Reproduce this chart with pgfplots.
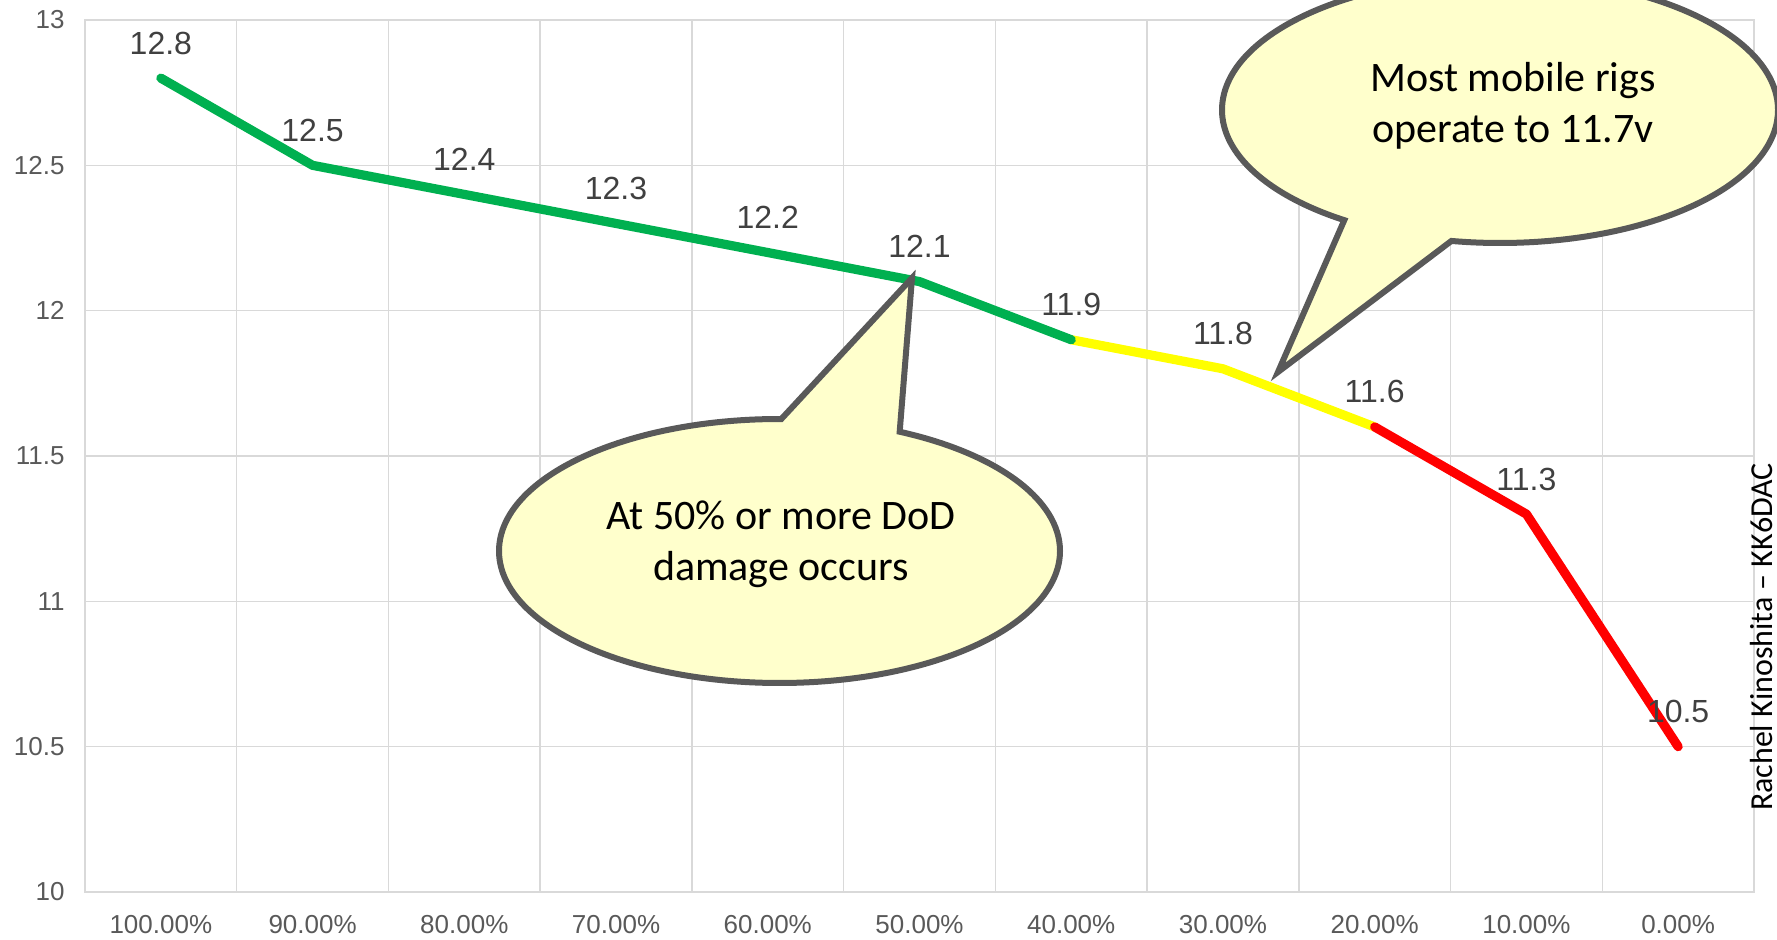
\documentclass[border=0pt]{standalone}
\usepackage{fontspec}
\setmainfont{Liberation Sans}
\newfontfamily\calibri{Carlito}
\usepackage{pgfplots}
\pgfplotsset{compat=1.18}
\usetikzlibrary{shapes.callouts}
\definecolor{gridgray}{HTML}{D9D9D9}
\definecolor{tickgray}{HTML}{595959}
\definecolor{labelgray}{HTML}{404040}
\definecolor{okGood}{HTML}{00B050}
\definecolor{okWarn}{HTML}{FFFF00}
\definecolor{okBad}{HTML}{FF0000}
\definecolor{bubblefill}{HTML}{FFFFCC}
\definecolor{bubbleline}{HTML}{595959}

\begin{document}
\begin{tikzpicture}
% page = 1777 x 940 px, 1 px = 0.5pt
\path[use as bounding box] (0,0) rectangle (888.5pt,-470pt);
\clip (0,0) rectangle (888.5pt,-470pt);
\begin{axis}[
    at={(42.5pt,-446pt)}, anchor=south west,
    width=834.5pt, height=436pt, scale only axis,
    xmin=-0.5, xmax=10.5, ymin=10, ymax=13,
    xtick={0,...,10},
    xticklabels={100.00\%, 90.00\%, 80.00\%, 70.00\%, 60.00\%, 50.00\%,
                 40.00\%, 30.00\%, 20.00\%, 10.00\%, 0.00\%},
    minor xtick={-0.5,0.5,...,10.5},
    ytick={10,10.5,...,13},
    xminorgrids, ymajorgrids,
    major grid style={draw=gridgray, line width=0.75pt},
    minor grid style={draw=gridgray, line width=0.75pt},
    axis line style={draw=gridgray, line width=0.75pt},
    major tick length=0pt, minor tick length=0pt,
    /pgf/number format/assume math mode=true,
    ticklabel style={font=\fontsize{13}{15}\selectfont, text=tickgray},
    yticklabel style={anchor=east, inner sep=0pt, xshift=-10pt},
    xticklabel style={anchor=north, inner sep=0pt, yshift=-11.5pt},
    clip=false,
]

% voltage curve, split by zone (yellow under, so the green/red caps show)
\addplot[okWarn, line width=4.6pt, line cap=round, line join=round]
    coordinates {(6,11.9) (7,11.8) (8,11.6)};
\addplot[okGood, line width=4.6pt, line cap=round, line join=round]
    coordinates {(0,12.8) (1,12.5) (2,12.4) (3,12.3) (4,12.2) (5,12.1) (6,11.9)};
\addplot[okBad, line width=4.6pt, line cap=round, line join=round]
    coordinates {(8,11.6) (9,11.3) (10,10.5)};

% data labels
\addplot[draw=none, nodes near coords, point meta=explicit symbolic,
    nodes near coords align={center},
    every node near coord/.append style={anchor=center, yshift=17.5pt,
        font=\fontsize{16}{19}\selectfont, text=labelgray}]
    coordinates {(0,12.8)[12.8] (1,12.5)[12.5] (2,12.4)[12.4] (3,12.3)[12.3]
                 (4,12.2)[12.2] (5,12.1)[12.1] (6,11.9)[11.9] (7,11.8)[11.8]
                 (8,11.6)[11.6] (9,11.3)[11.3] (10,10.5)[10.5]};
\end{axis}

% callouts, in pixel coordinates of the page
\begin{scope}[x=0.5pt, y=-0.5pt]
\node[ellipse callout, draw=bubbleline, line width=3pt, fill=bubblefill,
      minimum width=280.5pt, minimum height=132pt, inner sep=0pt,
      callout absolute pointer={(912,278)}, callout pointer arc=25]
      at (779.5,551) {};
\node[font=\calibri\fontsize{21}{25.5}\selectfont, align=center]
      at (781,544) {At 50\% or more DoD\\damage occurs};

\node[ellipse callout, draw=bubbleline, line width=3pt, fill=bubblefill,
      minimum width=278pt, minimum height=133pt, inner sep=0pt,
      callout absolute pointer={(1278,372)}, callout pointer arc=24]
      at (1500,110) {};
\node[font=\calibri\fontsize{21}{25.5}\selectfont, align=center]
      at (1513,106) {Most mobile rigs\\operate to 11.7v};

\node[rotate=90, inner sep=0pt, font=\calibri\fontsize{16}{19}\selectfont]
      at (1761,637) {Rachel Kinoshita – KK6DAC};
\end{scope}
\end{tikzpicture}
\end{document}
